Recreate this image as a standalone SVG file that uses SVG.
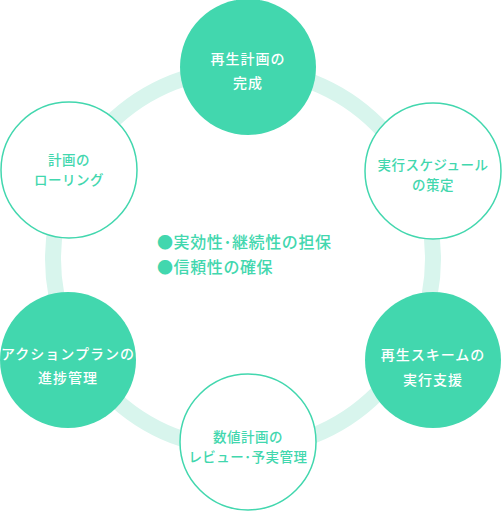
<svg xmlns="http://www.w3.org/2000/svg" width="502" height="512" viewBox="0 0 502 512">
<style>
.ring{fill:none;stroke:#d8f5ed;stroke-width:16}
.fill{fill:#42d7ae}
.line{fill:#fff;stroke:#42d7ae;stroke-width:1.5}
text{font-family:"Noto Sans CJK JP","Noto Sans",sans-serif;font-weight:500;text-anchor:middle}
.w{fill:#fff;font-size:14px;letter-spacing:1px}
.g{fill:#42d7ae;font-size:13.5px;letter-spacing:0.5px}
.c{fill:#42d7ae;font-size:16px;text-anchor:start;letter-spacing:0.6px}
</style>
<rect width="502" height="512" fill="#fff"/>
<g id="connectors">
<circle class="ring" cx="243" cy="259" r="190"/>
</g>
<g id="n1">
<circle class="fill" cx="248" cy="67" r="68"/>
<text class="w" x="248" y="64">再生計画の</text>
<text class="w" x="248" y="88">完成</text>
</g>
<g id="n2">
<circle class="line" cx="433" cy="171" r="68"/>
<text class="g" x="433" y="170">実行スケジュール</text>
<text class="g" x="433" y="190">の策定</text>
</g>
<g id="n3">
<circle class="fill" cx="433" cy="360" r="68"/>
<text class="w" x="433" y="360">再生スキームの</text>
<text class="w" x="433" y="385">実行支援</text>
</g>
<g id="n4">
<circle class="line" cx="248" cy="442" r="68"/>
<text class="g" x="248" y="442">数値計画の</text>
<text class="g" x="248" y="462">レビュー･予実管理</text>
</g>
<g id="n5">
<circle class="fill" cx="68" cy="360" r="68"/>
<text class="w" x="68" y="359">アクションプランの</text>
<text class="w" x="68" y="383">進捗管理</text>
</g>
<g id="n6">
<circle class="line" cx="69" cy="170" r="68"/>
<text class="g" x="69" y="165">計画の</text>
<text class="g" x="69" y="185">ローリング</text>
</g>
<g id="center">
<text class="c" x="157" y="248">●実効性･継続性の担保</text>
<text class="c" x="157" y="273">●信頼性の確保</text>
</g>
</svg>
